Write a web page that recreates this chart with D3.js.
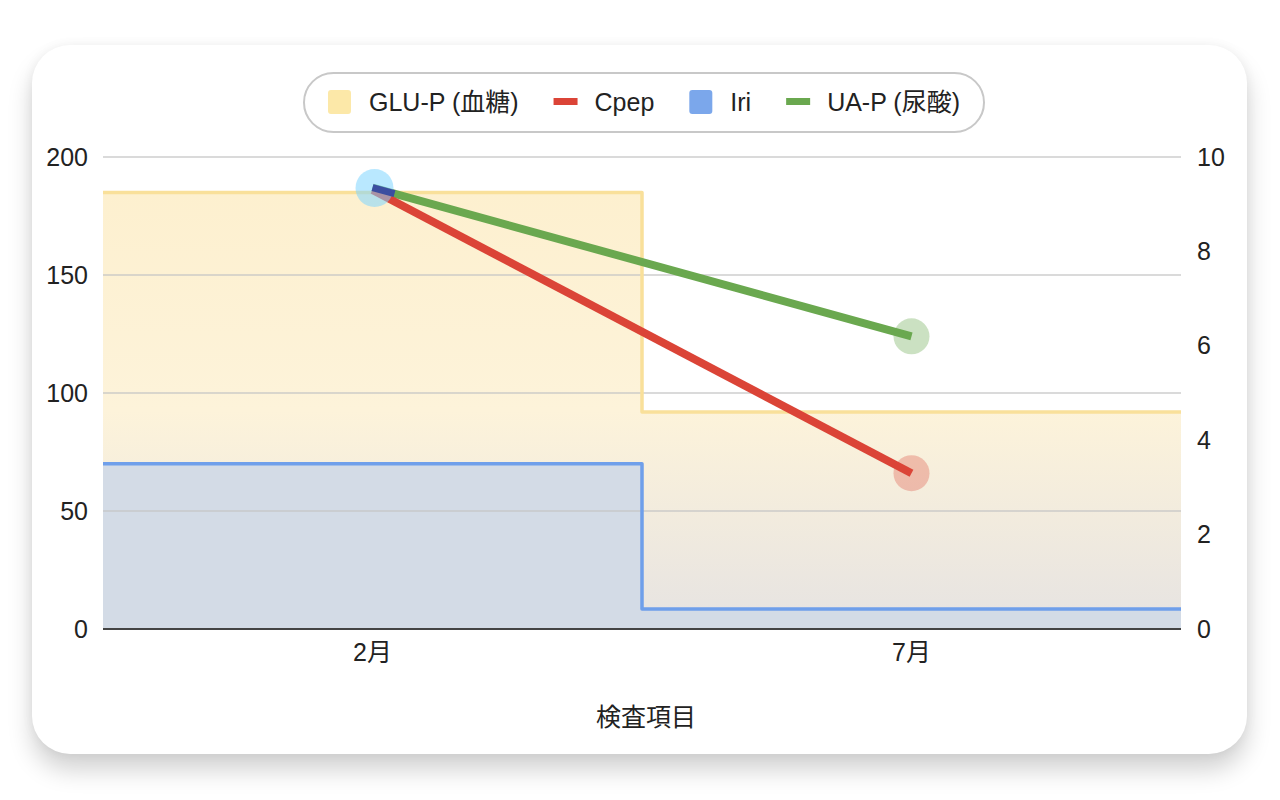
<!DOCTYPE html>
<html>
<head>
<meta charset="utf-8">
<script src="https://cdn.jsdelivr.net/npm/d3@7"></script>
<style>
  html, body { margin: 0; padding: 0; background: #fff; }
  body { width: 1280px; height: 800px; position: relative; overflow: hidden; }
  #card {
    position: absolute; left: 32px; top: 45px; width: 1215px; height: 709px;
    background: #fff; border-radius: 38px;
    box-shadow: 0 16px 24px rgba(0,0,0,0.18), 0 0 12px rgba(0,0,0,0.05);
  }
  svg { position: absolute; left: 0; top: 0; }
  text { font-family: "Liberation Sans", Arial, "Noto Sans CJK JP", sans-serif; fill: #222; }
</style>
</head>
<body>
<div id="card"></div>
<svg id="chart" width="1280" height="800"></svg>
<script>
const categories = ["2月", "7月"]
const gluP = [185, 92]      // left axis
const iri = [70, 8.5]       // left axis
const cpep = [9.3, 3.3]     // right axis
const uaP = [9.35, 6.2]     // right axis
const leftTicks = [0, 50, 100, 150, 200]
const rightTicks = [0, 2, 4, 6, 8, 10]
const seriesNames = ["GLU-P (血糖)", "Cpep", "Iri", "UA-P (尿酸)"]
const xTitle = "検査項目"

const pLeft = 103, pRight = 1181, pTop = 157, pBottom = 629

const svg = d3.select("#chart")

const x = d3.scaleBand().domain(categories).range([pLeft, pRight]).padding(0)
const yL = d3.scaleLinear().domain([0, 200]).range([pBottom, pTop])
const yR = d3.scaleLinear().domain([0, 10]).range([pBottom, pTop])

const defs = svg.append("defs")
const grad = defs.append("linearGradient")
  .attr("id", "gluFill").attr("x1", 0).attr("y1", 0).attr("x2", 0).attr("y2", 1)
grad.append("stop").attr("offset", "0").attr("stop-color", "#fdf0cf")
grad.append("stop").attr("offset", "0.5").attr("stop-color", "#fdf3da")
grad.append("stop").attr("offset", "1").attr("stop-color", "#e6e3e2")

// stepped areas, one step per category band
const stepPts = vals => {
  const pts = []
  categories.forEach((c, i) => {
    pts.push([x(c), vals[i]])
    pts.push([x(c) + x.bandwidth(), vals[i]])
  })
  return pts
}

const area = scale => d3.area().x(d => d[0]).y0(pBottom).y1(d => scale(d[1]))
const edge = scale => d3.line().x(d => d[0]).y(d => scale(d[1]))

svg.append("path")
  .attr("d", area(yL)(stepPts(gluP)))
  .attr("fill", "url(#gluFill)")
svg.append("path")
  .attr("d", area(yL)(stepPts(iri)))
  .attr("fill", "#d3dbe6")

// grid over the fills
svg.append("g")
  .selectAll("line")
  .data(leftTicks.filter(d => d > 0))
  .join("line")
    .attr("x1", pLeft).attr("x2", pRight)
    .attr("y1", d => yL(d)).attr("y2", d => yL(d))
    .attr("stroke", "#c4c4c4").attr("stroke-opacity", 0.85).attr("stroke-width", 1.5)

svg.append("path")
  .attr("d", edge(yL)(stepPts(gluP)))
  .attr("fill", "none").attr("stroke", "#f9e09a").attr("stroke-width", 3.5)
  .attr("stroke-linejoin", "round")
svg.append("path")
  .attr("d", edge(yL)(stepPts(iri)))
  .attr("fill", "none").attr("stroke", "#6f9fea").attr("stroke-width", 3.5)
  .attr("stroke-linejoin", "round")

// baseline
svg.append("line")
  .attr("x1", pLeft).attr("x2", pRight)
  .attr("y1", yL(0)).attr("y2", yL(0))
  .attr("stroke", "#444").attr("stroke-width", 2)

// lines on right axis
const cx = c => x(c) + x.bandwidth() / 2
const lineGen = d3.line().x((d, i) => cx(categories[i])).y(d => yR(d))

svg.append("path").attr("d", lineGen(uaP))
  .attr("fill", "none").attr("stroke", "#6aa84f").attr("stroke-width", 8)
svg.append("path").attr("d", lineGen(cpep))
  .attr("fill", "none").attr("stroke", "#db4437").attr("stroke-width", 8)

// point halos for 7月
svg.append("circle").attr("cx", cx(categories[1])).attr("cy", yR(uaP[1]))
  .attr("r", 18).attr("fill", "#6aa84f").attr("opacity", 0.35)
svg.append("circle").attr("cx", cx(categories[1])).attr("cy", yR(cpep[1]))
  .attr("r", 18).attr("fill", "#db4437").attr("opacity", 0.3)

// highlighted point at 2月
svg.append("circle").attr("cx", cx(categories[0]) + 2).attr("cy", yR(cpep[0]) - 2)
  .attr("r", 19).attr("fill", "#7fd6ff").attr("opacity", 0.55)
svg.append("line")
  .attr("x1", cx(categories[0])).attr("y1", yR(uaP[0]))
  .attr("x2", cx(categories[0]) + 22).attr("y2", yR(uaP[0]) + 6)
  .attr("stroke", "#3b4ea0").attr("stroke-width", 7)

// axes
const fs = 25
const axL = d3.axisLeft(yL).tickValues(leftTicks).tickSize(0).tickPadding(15)
const axR = d3.axisRight(yR).tickValues(rightTicks).tickSize(0).tickPadding(16)
const axB = d3.axisBottom(x).tickSize(0).tickPadding(14)

const styleAxis = g => {
  g.select(".domain").remove()
  g.selectAll("text").style("font-size", fs + "px").attr("fill", "#222")
}
svg.append("g").attr("transform", `translate(${pLeft},0)`).call(axL).call(styleAxis)
svg.append("g").attr("transform", `translate(${pRight},0)`).call(axR).call(styleAxis)
svg.append("g").attr("transform", `translate(0,${pBottom})`).call(axB).call(styleAxis)

svg.append("text")
  .attr("x", (pLeft + pRight) / 2 + 4).attr("y", 726)
  .attr("text-anchor", "middle").style("font-size", fs + "px")
  .text(xTitle)

// legend
const legColors = ["#fce8a8", "#db4437", "#7ba7eb", "#6aa84f"]
const legKinds = ["box", "dash", "box", "dash"]
const leg = svg.append("g")
const items = leg.selectAll("g.item").data(seriesNames).join("g").attr("class", "item")
items.append("text").attr("y", 111).style("font-size", fs + "px").text(d => d)
let pos = 0
const widths = []
items.each(function () {
  widths.push(this.querySelector("text").getComputedTextLength())
})
items.each(function (d, i) {
  const g = d3.select(this)
  if (legKinds[i] === "box") {
    g.append("rect").attr("x", pos).attr("y", 90).attr("width", 23).attr("height", 24)
      .attr("rx", 3).attr("fill", legColors[i])
  } else {
    g.append("rect").attr("x", pos).attr("y", 98).attr("width", 24).attr("height", 7)
      .attr("fill", legColors[i])
  }
  g.select("text").attr("x", pos + 41)
  pos += 41 + widths[i] + 35
})
const total = pos - 35
const padX = 24
const lx = (pLeft + pRight) / 2 - total / 2 + 2
leg.attr("transform", `translate(${lx},0)`)
leg.insert("rect", ":first-child")
  .attr("x", -padX).attr("y", 73).attr("width", total + padX * 2).attr("height", 59)
  .attr("rx", 29.5).attr("fill", "#fff").attr("stroke", "#c8c8c8").attr("stroke-width", 2)
</script>
</body>
</html>
